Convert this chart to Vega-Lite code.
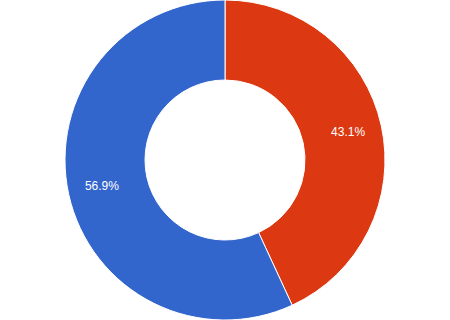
{
  "$schema": "https://vega.github.io/schema/vega-lite/v6.json",
  "width": 450,
  "height": 320,
  "autosize": {"type": "fit", "contains": "padding"},
  "padding": 0,
  "background": "white",
  "view": {"stroke": null},
  "data": {"values": [
    {"category": "A", "value": 43.1, "label": "43.1%", "order": 1},
    {"category": "B", "value": 56.9, "label": "56.9%", "order": 2}
  ]},
  "encoding": {
    "theta": {"field": "value", "type": "quantitative", "stack": true},
    "order": {"field": "order", "type": "quantitative"}
  },
  "layer": [
    {
      "mark": {"type": "arc", "outerRadius": 160, "innerRadius": 80, "stroke": "white", "strokeWidth": 1},
      "encoding": {
        "color": {"field": "category", "type": "nominal", "scale": {"domain": ["A", "B"], "range": ["#dc3912", "#3366cc"]}, "legend": null}
      }
    },
    {
      "mark": {"type": "text", "radius": 126, "fill": "white", "fontSize": 12, "font": "Liberation Sans", "dy": -1},
      "encoding": {
        "text": {"field": "label", "type": "nominal"}
      }
    }
  ]
}
